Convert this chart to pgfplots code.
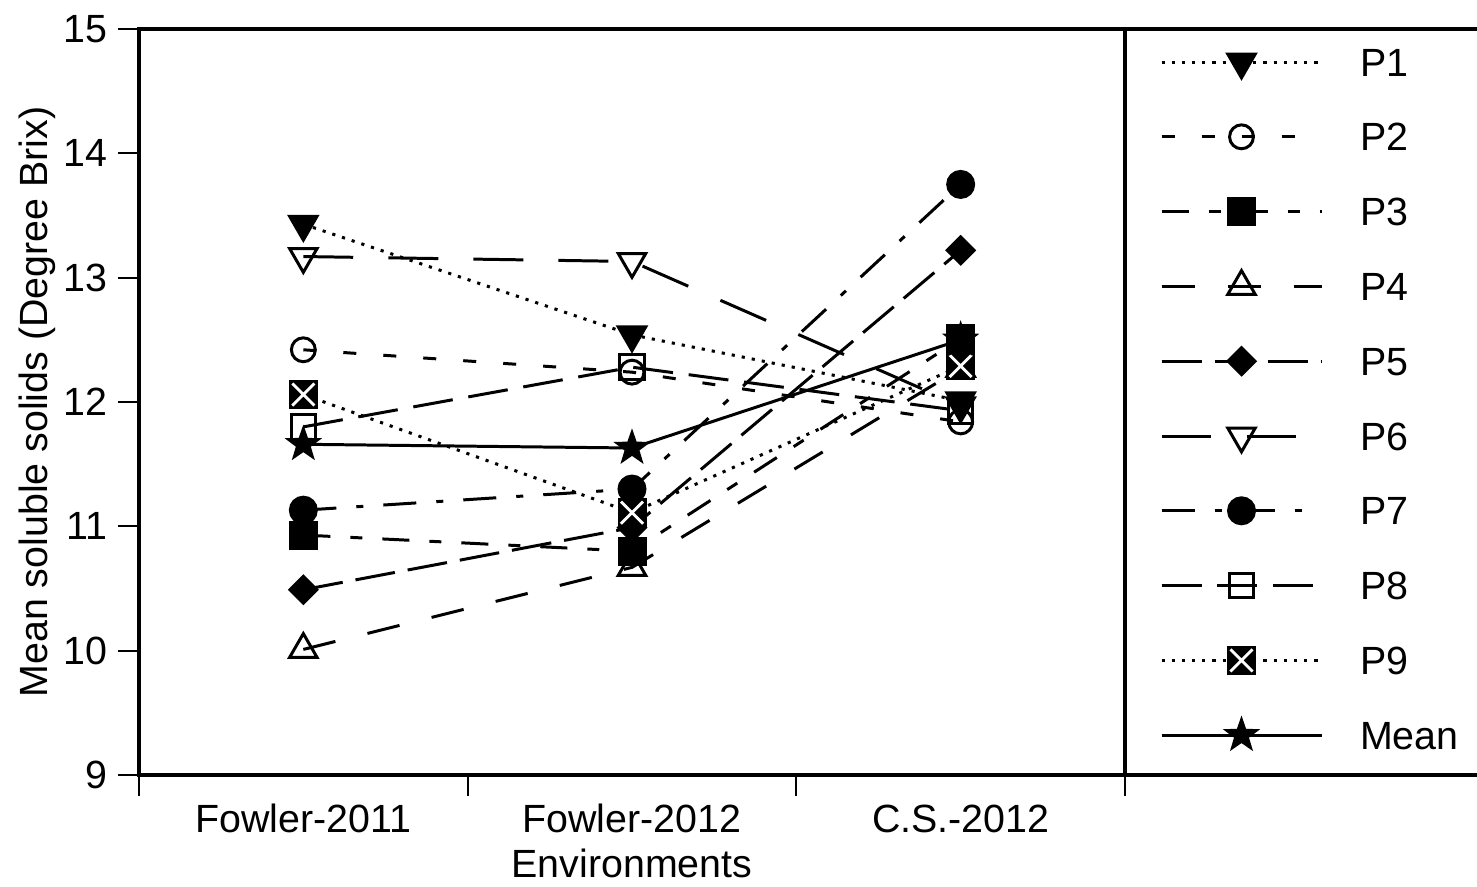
\documentclass[border=0pt]{standalone}
\usepackage{fontspec}
\setmainfont{Liberation Sans}
\usepackage{pgfplots}
\pgfplotsset{compat=1.18}

\pgfdeclareplotmark{xbox}{%
  \pgfpathrectangle{\pgfpoint{-\pgfplotmarksize}{-\pgfplotmarksize}}{\pgfpoint{2\pgfplotmarksize}{2\pgfplotmarksize}}%
  \pgfusepathqfillstroke
  \pgfscope
  \pgfsetstrokecolor{white}%
  \pgfsetlinewidth{0.8pt}%
  \pgfpathmoveto{\pgfpoint{-0.85\pgfplotmarksize}{-0.85\pgfplotmarksize}}%
  \pgfpathlineto{\pgfpoint{0.85\pgfplotmarksize}{0.85\pgfplotmarksize}}%
  \pgfpathmoveto{\pgfpoint{-0.85\pgfplotmarksize}{0.85\pgfplotmarksize}}%
  \pgfpathlineto{\pgfpoint{0.85\pgfplotmarksize}{-0.85\pgfplotmarksize}}%
  \pgfusepathqstroke
  \endpgfscope
}
\pgfdeclareplotmark{fstar}{%
  \pgfpathmoveto{\pgfpointpolar{90}{\pgfplotmarksize}}%
  \pgfpathlineto{\pgfpointpolar{126}{0.4\pgfplotmarksize}}%
  \pgfpathlineto{\pgfpointpolar{162}{\pgfplotmarksize}}%
  \pgfpathlineto{\pgfpointpolar{198}{0.4\pgfplotmarksize}}%
  \pgfpathlineto{\pgfpointpolar{234}{\pgfplotmarksize}}%
  \pgfpathlineto{\pgfpointpolar{270}{0.4\pgfplotmarksize}}%
  \pgfpathlineto{\pgfpointpolar{306}{\pgfplotmarksize}}%
  \pgfpathlineto{\pgfpointpolar{342}{0.4\pgfplotmarksize}}%
  \pgfpathlineto{\pgfpointpolar{18}{\pgfplotmarksize}}%
  \pgfpathlineto{\pgfpointpolar{54}{0.4\pgfplotmarksize}}%
  \pgfpathclose
  \pgfusepathqfillstroke
}

\begin{document}
\begin{tikzpicture}[font=\fontsize{11.2}{13.4}\selectfont]
\begin{axis}[
  scale only axis, width=98.6mm, height=74.6mm,
  xmin=0, xmax=3, ymin=9, ymax=15,
  axis line style={line width=1pt, black},
  ytick={9,10,...,15},
  ytick pos=left, xtick pos=bottom,
  tick align=outside, major tick length=2.1mm,
  tick style={line width=0.6pt, black},
  xtick={0,1,2,3}, xticklabels={},
  extra x ticks={0.5,1.5,2.5},
  extra x tick labels={Fowler-2011,Fowler-2012,C.S.-2012},
  extra x tick style={major tick length=0pt, xticklabel style={anchor=base, inner sep=0pt, yshift=-5.7mm}},
  yticklabel style={anchor=east, inner sep=0pt, xshift=-1.0mm},
  /pgf/number format/assume math mode=true,
  every axis plot/.append style={line width=0.85pt, black},
  legend image code/.code={\draw[mark repeat=2,mark phase=2,#1] plot coordinates {(0mm,0mm) (8mm,0mm) (16mm,0mm)};},
  legend cell align=left,
  legend style={at={(1,1)}, anchor=north west, xshift=3.5mm, yshift=0.44mm,
    draw=none, fill=none, inner sep=0pt, outer sep=0pt, row sep=0pt,
    nodes={inner sep=0pt, text height=5.14mm, text depth=2.34mm},
    /tikz/every odd column/.append style={column sep=3.7mm}},
]
\addplot[dash pattern=on 0.9pt off 2pt, mark=triangle*, mark size=4.5pt, mark options={solid, rotate=180}]
  coordinates {(0.5,13.43) (1.5,12.54) (2.5,12.01)};
\addlegendentry{P1}
\addplot[dash pattern=on 3.7pt off 7.7pt, mark=o, mark size=3.4pt, mark options={solid}]
  coordinates {(0.5,12.42) (1.5,12.24) (2.5,11.84)};
\addlegendentry{P2}
\addplot[dash pattern=on 7.7pt off 5.7pt on 3.4pt off 5.7pt, mark=square*, mark size=3.7pt, mark options={solid}]
  coordinates {(0.5,10.93) (1.5,10.80) (2.5,12.51)};
\addlegendentry{P3}
\addplot[dash pattern=on 9.4pt off 9.4pt, mark=triangle, mark size=4.5pt, mark options={solid}]
  coordinates {(0.5,10.01) (1.5,10.67) (2.5,12.27)};
\addlegendentry{P4}
\addplot[dash pattern=on 11.4pt off 3.7pt, mark=square*, mark size=2.7pt, mark options={solid, rotate=45}]
  coordinates {(0.5,10.49) (1.5,10.99) (2.5,13.22)};
\addlegendentry{P5}
\addplot[dash pattern=on 14.2pt off 10pt, mark=triangle, mark size=4.5pt, mark options={solid, rotate=180}]
  coordinates {(0.5,13.17) (1.5,13.13) (2.5,11.97)};
\addlegendentry{P6}
\addplot[dash pattern=on 9.4pt off 5.7pt on 2pt off 5.7pt, mark=*, mark size=3.7pt, mark options={solid}]
  coordinates {(0.5,11.13) (1.5,11.30) (2.5,13.75)};
\addlegendentry{P7}
\addplot[dash pattern=on 11.4pt off 4.5pt, mark=square, mark size=3.5pt, mark options={solid}]
  coordinates {(0.5,11.80) (1.5,12.28) (2.5,11.93)};
\addlegendentry{P8}
\addplot[dash pattern=on 0.9pt off 2pt, mark=xbox, mark size=3.7pt, mark options={solid}]
  coordinates {(0.5,12.06) (1.5,11.11) (2.5,12.29)};
\addlegendentry{P9}
\addplot[solid, mark=fstar, mark size=4.3pt, mark options={solid}]
  coordinates {(0.5,11.66) (1.5,11.63) (2.5,12.50)};
\addlegendentry{Mean}
\end{axis}
\draw[line width=1pt] (current axis.south east) rectangle ([xshift=45mm]current axis.north east);
\node[rotate=90] at ([xshift=-10.2mm]current axis.west) {Mean soluble solids (Degree Brix)};
\node[anchor=base] at ([yshift=-10.2mm]current axis.south) {Environments};
\pgfresetboundingbox
\path[use as bounding box] ([xshift=-13.9mm,yshift=-11.1mm]current axis.south west) rectangle ([xshift=35.2mm,yshift=2.9mm]current axis.north east);
\end{tikzpicture}
\end{document}
